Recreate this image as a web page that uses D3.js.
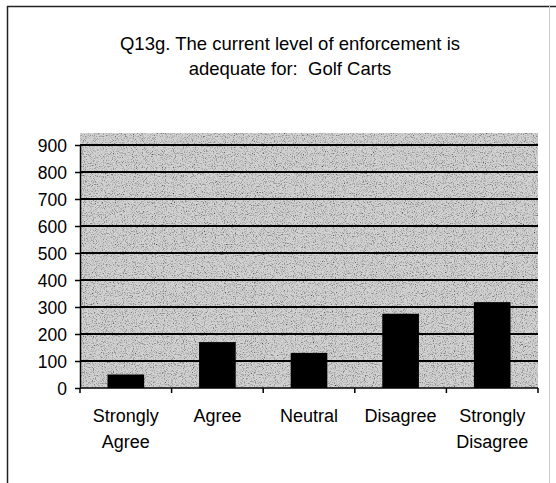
<!DOCTYPE html>
<html>
<head>
<meta charset="utf-8">
<script src="https://cdn.jsdelivr.net/npm/d3@7"></script>
<style>
  body { margin: 0; background: #fff; }
  text { font-family: "Liberation Sans", Arial, sans-serif; fill: #000; }
</style>
</head>
<body>
<div id="chart"></div>
<script>
// data
var categories = ["Strongly Agree", "Agree", "Neutral", "Disagree", "Strongly Disagree"];
var counts = [50, 170, 130, 275, 318];
var yTicks = [0, 100, 200, 300, 400, 500, 600, 700, 800, 900];
var titleLines = ["Q13g. The current level of enforcement is", "adequate for:  Golf Carts"];

var width = 556, height = 483;
var margin = {left: 80, right: 18, top: 145, bottom: 95};

var svg = d3.select("#chart").append("svg")
    .attr("width", width)
    .attr("height", height);

// grainy grey fill like the photocopy
var defs = svg.append("defs");
var f = defs.append("filter").attr("id", "grain")
    .attr("x", 0).attr("y", 0).attr("width", 1).attr("height", 1);
f.append("feTurbulence")
    .attr("type", "fractalNoise")
    .attr("baseFrequency", 0.9)
    .attr("numOctaves", 2)
    .attr("seed", 3)
    .attr("result", "noise");
f.append("feColorMatrix")
    .attr("in", "noise")
    .attr("type", "matrix")
    .attr("values", "0 0 0 0 0  0 0 0 0 0  0 0 0 0 0  0 0 0 -2.2 1.15")
    .attr("result", "dots");
f.append("feComposite").attr("in", "dots").attr("in2", "SourceGraphic").attr("operator", "in").attr("result", "d2");
f.append("feMerge").selectAll("feMergeNode")
    .data(["SourceGraphic", "d2"]).enter().append("feMergeNode")
    .attr("in", function(d) { return d; });

// frame
svg.append("line").attr("x1", 7).attr("x2", 556).attr("y1", 6.5).attr("y2", 6.5)
    .attr("stroke", "#222").attr("stroke-width", 1.5);
svg.append("line").attr("x1", 7.5).attr("x2", 7.5).attr("y1", 6).attr("y2", 483)
    .attr("stroke", "#222").attr("stroke-width", 1.5);
svg.append("line").attr("x1", 549.5).attr("x2", 549.5).attr("y1", 6).attr("y2", 483)
    .attr("stroke", "#ccc").attr("stroke-width", 1);

// title
svg.append("g").selectAll("text")
    .data(titleLines)
    .enter().append("text")
    .attr("x", 290)
    .attr("y", function(d, i) { return 50 + i * 25; })
    .attr("text-anchor", "middle")
    .style("font-size", "18.5px")
    .style("white-space", "pre")
    .text(function(d) { return d; });

var x = d3.scaleBand()
    .domain(categories)
    .range([margin.left, width - margin.right])
    .paddingInner(0.6)
    .paddingOuter(0.3);

var y = d3.scaleLinear()
    .domain([0, 900])
    .range([height - margin.bottom, margin.top]);

// plot background (runs a bit above the 900 line)
svg.append("rect")
    .attr("x", margin.left)
    .attr("y", y(900) - 12)
    .attr("width", width - margin.right - margin.left)
    .attr("height", y(0) - y(900) + 12)
    .attr("fill", "#d2d2d2")
    .attr("filter", "url(#grain)");

// gridlines
svg.append("g").selectAll("line")
    .data(yTicks.slice(1))
    .enter().append("line")
    .attr("x1", margin.left).attr("x2", width - margin.right)
    .attr("y1", function(d) { return y(d); })
    .attr("y2", function(d) { return y(d); })
    .attr("stroke", "#000").attr("stroke-width", 2);

// bars
svg.append("g").selectAll("rect")
    .data(counts)
    .enter().append("rect")
    .attr("x", function(d, i) { return x(categories[i]); })
    .attr("y", function(d) { return y(d); })
    .attr("width", x.bandwidth())
    .attr("height", function(d) { return y(0) - y(d); })
    .attr("fill", "#000");

// y axis
var yAxis = svg.append("g")
    .attr("transform", "translate(" + margin.left + ",0)")
    .call(d3.axisLeft(y).tickValues(yTicks).tickSize(5).tickPadding(8).tickSizeOuter(0));
yAxis.select(".domain").attr("stroke-width", 1.5);
yAxis.selectAll(".tick line").attr("stroke-width", 1.5);
yAxis.selectAll("text").style("font-size", "17.5px").attr("dy", "0.36em");

// x axis: ticks on category boundaries
var xAxis = svg.append("g")
    .attr("transform", "translate(0," + y(0) + ")");
xAxis.append("line")
    .attr("x1", margin.left).attr("x2", width - margin.right)
    .attr("stroke", "#000").attr("stroke-width", 1.5);
var step = (width - margin.right - margin.left) / categories.length;
xAxis.selectAll(".btick")
    .data(d3.range(categories.length + 1))
    .enter().append("line")
    .attr("class", "btick")
    .attr("x1", function(d) { return margin.left + d * step; })
    .attr("x2", function(d) { return margin.left + d * step; })
    .attr("y1", 0).attr("y2", 5)
    .attr("stroke", "#000").attr("stroke-width", 1.5);

var labels = xAxis.selectAll(".xlab")
    .data(categories)
    .enter().append("text")
    .attr("class", "xlab")
    .attr("text-anchor", "middle")
    .style("font-size", "18px");
labels.each(function(d) {
    var words = d.split(" ");
    var t = d3.select(this);
    var cx = x(d) + x.bandwidth() / 2;
    words.forEach(function(w, i) {
        t.append("tspan")
            .attr("x", cx)
            .attr("y", 33.5 + i * 26.5)
            .text(w);
    });
});
</script>
</body>
</html>
